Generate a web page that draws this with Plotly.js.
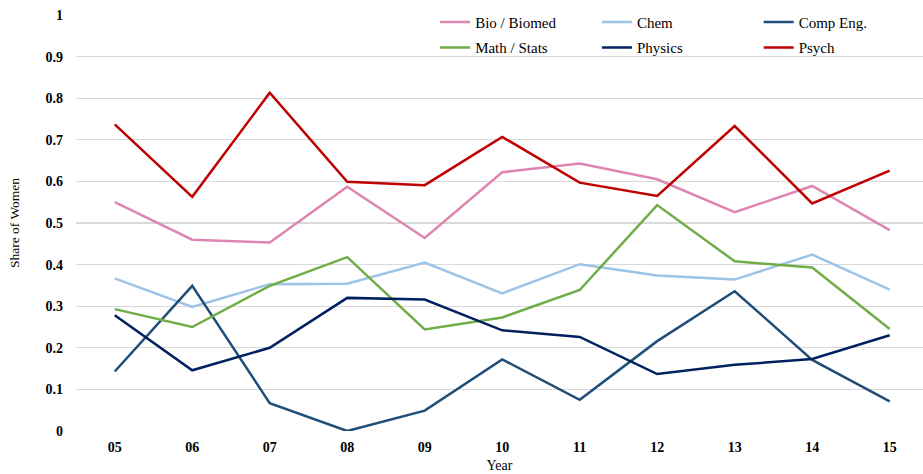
<!DOCTYPE html>
<html>
<head>
<meta charset="utf-8">
<script src="https://cdn.plot.ly/plotly-3.0.1.min.js"></script>
<style>html,body{margin:0;padding:0;background:#fff;}#chart{width:923px;height:474px;}</style>
</head>
<body>
<div id="chart"></div>
<script>
const years = ["05","06","07","08","09","10","11","12","13","14","15"];
const bioBiomed = [0.550,0.460,0.453,0.587,0.464,0.622,0.643,0.605,0.526,0.589,0.483];
const chem      = [0.367,0.298,0.353,0.354,0.405,0.331,0.401,0.374,0.364,0.424,0.340];
const compEng   = [0.143,0.349,0.067,0.000,0.049,0.172,0.075,0.216,0.336,0.171,0.071];
const mathStats = [0.293,0.250,0.349,0.418,0.244,0.273,0.339,0.543,0.408,0.393,0.245];
const physics   = [0.278,0.146,0.200,0.320,0.316,0.242,0.226,0.137,0.159,0.173,0.230];
const psych     = [0.737,0.563,0.813,0.599,0.591,0.707,0.597,0.565,0.733,0.547,0.626];
const seriesNames = ["Bio / Biomed","Chem","Comp Eng.","Math / Stats","Physics","Psych"];
const seriesColors = ["#DE85B2","#9DC3E6","#1F4E79","#70AD47","#002060","#C00000"];
const seriesData = [bioBiomed, chem, compEng, mathStats, physics, psych];
const legendIds = ["legend","legend2","legend3","legend","legend2","legend3"];

const font = "'Liberation Serif', 'Times New Roman', serif";
const traces = seriesData.map((d,i)=>({
  type:"scatter", mode:"lines", x:years, y:d, name:seriesNames[i],
  legend:legendIds[i], legendgroup:"g"+i,
  line:{color:seriesColors[i], width:2.5}
}));

function leg(x){
  return {orientation:"v", x:x, xanchor:"left", y:1.022, yanchor:"top",
    bgcolor:"rgba(0,0,0,0)", borderwidth:0,
    font:{family:font, size:15, color:"#000"}, tracegroupgap:3};
}

const layout = {
  width:923, height:474,
  margin:{l:76, r:0, t:15, b:43},
  paper_bgcolor:"#fff", plot_bgcolor:"#fff",
  font:{family:font, color:"#000"},
  showlegend:true,
  legend:leg(0.424), legend2:leg(0.615), legend3:leg(0.806),
  xaxis:{type:"category", range:[-0.5,10.43], showgrid:false, zeroline:false, showline:false,
    ticks:"", ticklabelstandoff:6, tickfont:{family:font, size:14, color:"#000", weight:"bold"},
    title:{text:"Year", font:{family:font, size:14, color:"#000"}, standoff:6}},
  yaxis:{range:[0,1], tickvals:[0,0.1,0.2,0.3,0.4,0.5,0.6,0.7,0.8,0.9,1],
    ticktext:["0","0.1","0.2","0.3","0.4","0.5","0.6","0.7","0.8","0.9","1"],
    showgrid:true, gridcolor:"#D9D9D9", gridwidth:1.3, zeroline:false, showline:false,
    ticks:"", ticklabelstandoff:12,
    tickfont:{family:font, size:14, color:"#000", weight:"bold"},
    title:{text:"Share of Women", font:{family:font, size:13.5, color:"#000"}, standoff:22}}
};
Plotly.newPlot("chart", traces, layout, {displayModeBar:false, staticPlot:true});
</script>
</body>
</html>
